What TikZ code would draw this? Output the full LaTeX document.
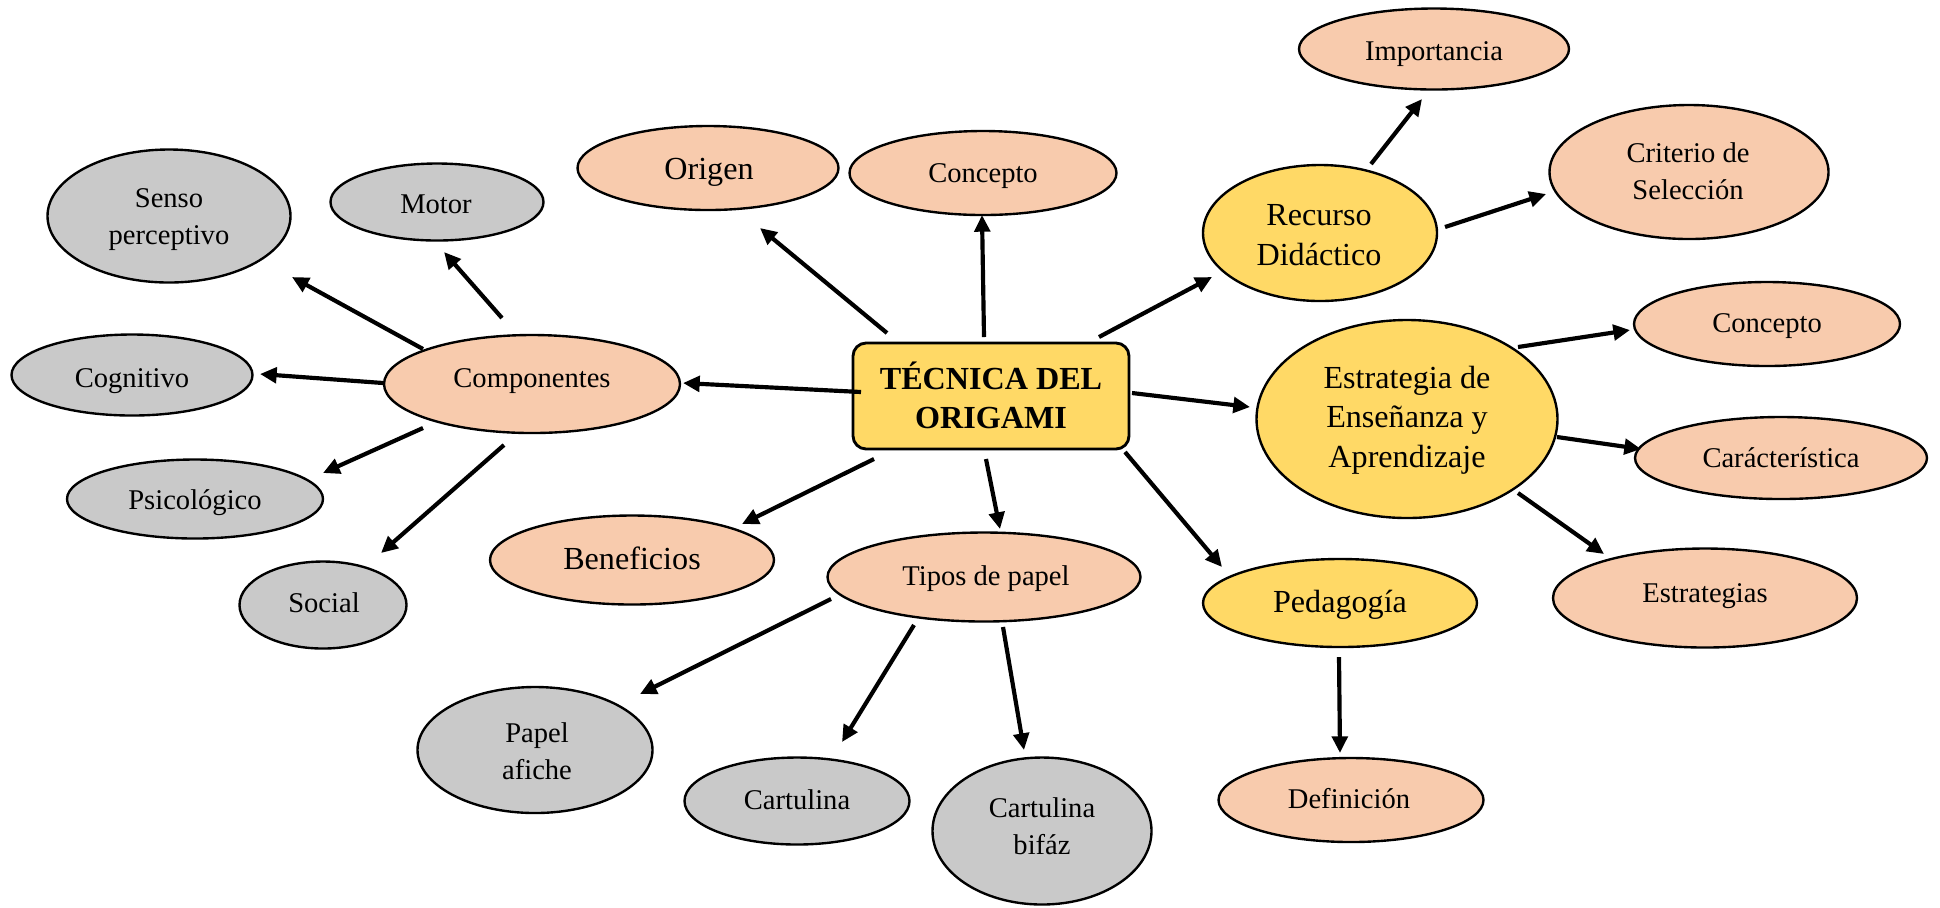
\documentclass[tikz,border=0pt]{standalone}
\usepackage{fontspec}
\setmainfont{Liberation Serif}
\usetikzlibrary{shapes.geometric,arrows.meta}
\definecolor{cpeach}{HTML}{F8CBAD}
\definecolor{cyellow}{HTML}{FFD966}
\definecolor{cgray}{HTML}{C9C9C9}
\begin{document}
\begin{tikzpicture}[x=0.42pt,y=-0.42pt,
  bub/.style={ellipse, draw=black, line width=1pt, inner sep=0pt},
  sz/.style 2 args={minimum width=#1*0.42pt, minimum height=#2*0.42pt},
  peach/.style={bub, fill=cpeach},
  yell/.style={bub, fill=cyellow},
  grey/.style={bub, fill=cgray},
  txt/.style={anchor=base, align=center, inner sep=0pt, font=\fontsize{12}{15.5}\selectfont},
  big/.style={font=\fontsize{13.5}{16.5}\selectfont},
  arr/.style={line width=1.75pt, -{Triangle[length=7pt,width=6.5pt]}},
  mainbox/.style={draw=black, line width=1.2pt, fill=cyellow, rounded corners=5.5pt, inner sep=0pt}
]
\useasboundingbox (0,0) rectangle (1940,907);

% central box
\node[mainbox, minimum width=276*0.42pt, minimum height=106*0.42pt] (tec) at (991,396) {};
\node[txt, font=\bfseries\fontsize{13.5}{16}\selectfont] (t-tec) at (991,428) {TÉCNICA DEL\\ORIGAMI};

% ellipses
\node[peach, sz={270}{81}]  (imp)  at (1434,49)  {};
\node[peach, sz={279}{134}] (crit) at (1689,172) {};
\node[yell,  sz={234}{136}] (rec)  at (1320,233) {};
\node[peach, sz={266}{84}]  (conR) at (1767,324) {};
\node[yell,  sz={301}{198}] (est)  at (1407,419) {};
\node[peach, sz={292}{82}]  (car)  at (1781,458) {};
\node[peach, sz={304}{99}]  (ests) at (1705,598) {};
\node[yell,  sz={274}{88}]  (ped)  at (1340,603) {};
\node[peach, sz={265}{84}]  (def)  at (1351,800) {};
\node[peach, sz={267}{84}]  (conT) at (983,173)  {};
\node[peach, sz={261}{84}]  (ori)  at (708,168)  {};
\node[peach, sz={296}{98}]  (comp) at (532,384)  {};
\node[grey,  sz={243}{133}] (sen)  at (169,216)  {};
\node[grey,  sz={213}{77}]  (mot)  at (437,202)  {};
\node[grey,  sz={241}{81}]  (cog)  at (132,375)  {};
\node[grey,  sz={256}{79}]  (psi)  at (195,499)  {};
\node[grey,  sz={167}{87}]  (soc)  at (323,605)  {};
\node[peach, sz={284}{89}]  (ben)  at (632,560)  {};
\node[peach, sz={313}{89}]  (tip)  at (984,577)  {};
\node[grey,  sz={235}{126}] (paf)  at (535,750)  {};
\node[grey,  sz={225}{87}]  (car1) at (797,801)  {};
\node[grey,  sz={219}{147}] (carb) at (1042,831) {};

% texts (anchor at baseline of last line)
\node[txt] (t-imp)  at (1434,60)  {Importancia};
\node[txt] (t-crit) at (1688,199) {Criterio de\\Selección};
\node[txt, big] (t-rec) at (1319,265) {Recurso\\Didáctico};
\node[txt] (t-conR) at (1767,332) {Concepto};
\node[txt, big] (t-est) at (1407,467) {Estrategia de\\Enseñanza y\\Aprendizaje};
\node[txt] (t-car)  at (1781,467) {Carácterística};
\node[txt] (t-ests) at (1705,602) {Estrategias};
\node[txt, big] (t-ped) at (1340,612) {Pedagogía};
\node[txt] (t-def)  at (1349,808) {Definición};
\node[txt] (t-conT) at (983,182)  {Concepto};
\node[txt, big] (t-ori) at (709,179) {Origen};
\node[txt] (t-comp) at (532,387)  {Componentes};
\node[txt] (t-sen)  at (169,244)  {Senso\\perceptivo};
\node[txt] (t-mot)  at (436,213)  {Motor};
\node[txt] (t-cog)  at (132,387)  {Cognitivo};
\node[txt] (t-psi)  at (195,509)  {Psicológico};
\node[txt] (t-soc)  at (324,612)  {Social};
\node[txt, big] (t-ben) at (632,569) {Beneficios};
\node[txt] (t-tip)  at (986,585)  {Tipos de papel};
\node[txt] (t-paf)  at (537,779)  {Papel\\afiche};
\node[txt] (t-car1) at (797,809)  {Cartulina};
\node[txt] (t-carb) at (1042,854) {Cartulina\\bifáz};

% connectors
\draw[arr] ([shift={(-109,-35)}]comp.center) -- ([shift={(123,61)}]sen.center);
\draw[arr] ([shift={(-30,-66)}]comp.center) -- ([shift={(7,50)}]mot.center);
\draw[arr] ([shift={(-149,-1)}]comp.center) -- ([shift={(128,-1)}]cog.center);
\draw[arr] ([shift={(-109,44)}]comp.center) -- ([shift={(128,-26)}]psi.center);
\draw[arr] ([shift={(-28,61)}]comp.center) -- ([shift={(58,-52)}]soc.center);
\draw[arr] ([shift={(-104,-63)}]tec.center) -- ([shift={(52,60)}]ori.center);
\draw[arr] ([shift={(-7,-59)}]tec.center) -- ([shift={(-1,42)}]conT.center);
\draw[arr] ([shift={(-130,-4)}]tec.center) -- ([shift={(151,-1)}]comp.center);
\draw[arr] ([shift={(108,-59)}]tec.center) -- ([shift={(-108,44)}]rec.center);
\draw[arr] ([shift={(141,-3)}]tec.center) -- ([shift={(-157,-12)}]est.center);
\draw[arr] ([shift={(-117,63)}]tec.center) -- ([shift={(110,-36)}]ben.center);
\draw[arr] ([shift={(-5,63)}]tec.center) -- ([shift={(16,-48)}]tip.center);
\draw[arr] ([shift={(134,56)}]tec.center) -- ([shift={(-118,-36)}]ped.center);
\draw[arr] ([shift={(-153,22)}]tip.center) -- ([shift={(105,-56)}]paf.center);
\draw[arr] ([shift={(-70,48)}]tip.center) -- ([shift={(45,-59)}]car1.center);
\draw[arr] ([shift={(19,50)}]tip.center) -- ([shift={(-18,-81)}]carb.center);
\draw[arr] ([shift={(51,-69)}]rec.center) -- ([shift={(-12,50)}]imp.center);
\draw[arr] ([shift={(125,-6)}]rec.center) -- ([shift={(-143,22)}]crit.center);
\draw[arr] ([shift={(111,-72)}]est.center) -- ([shift={(-137,6)}]conR.center);
\draw[arr] ([shift={(150,18)}]est.center) -- ([shift={(-140,-9)}]car.center);
\draw[arr] ([shift={(111,74)}]est.center) -- ([shift={(-101,-44)}]ests.center);
\draw[arr] ([shift={(-1,54)}]ped.center) -- ([shift={(-11,-47)}]def.center);
\end{tikzpicture}
\end{document}
